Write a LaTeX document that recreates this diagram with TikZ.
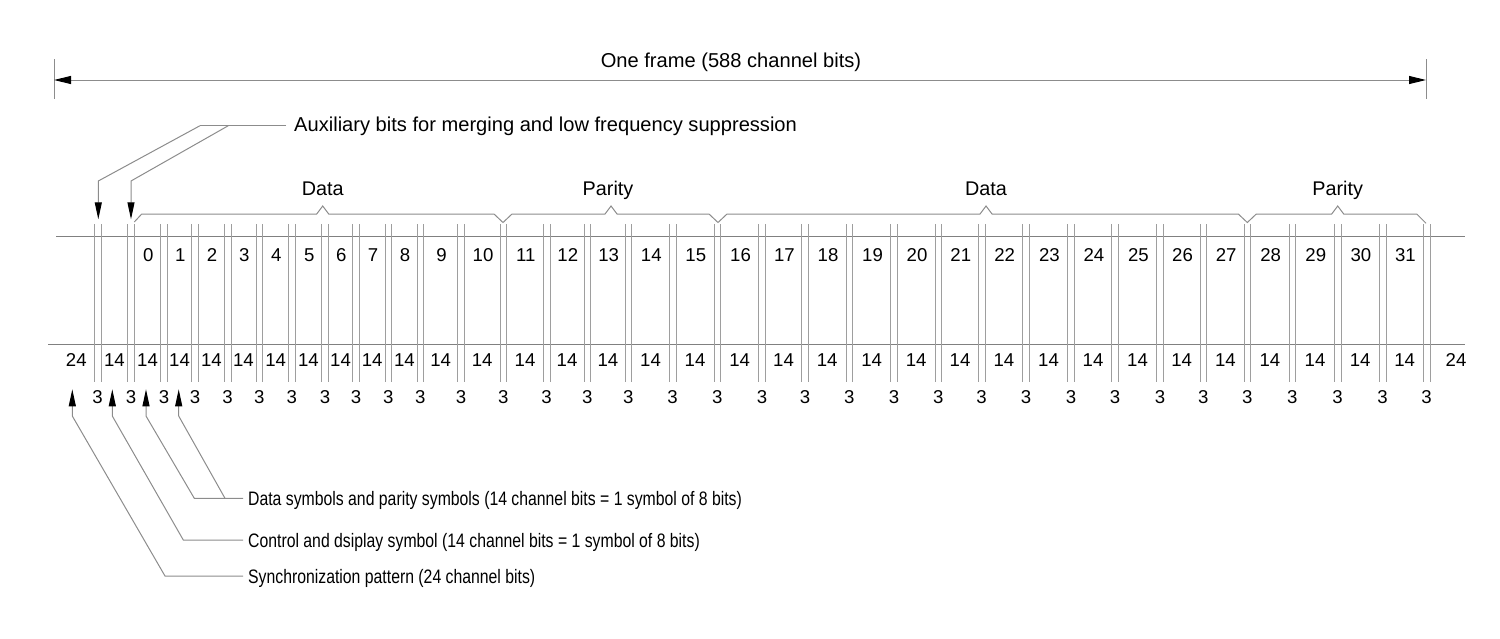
\documentclass[tikz,border=0pt]{standalone}
\usepackage{fontspec}
\setmainfont{Liberation Sans}
\usetikzlibrary{arrows.meta,calc}
\begin{document}
\begin{tikzpicture}[x=1pt,y=-1pt,
  vline/.style={draw=black!38,line width=1pt},
  hline/.style={draw=black!50,line width=1pt},
  lead/.style={draw=black!45,line width=1pt},
  num/.style={inner sep=0pt,anchor=base,font=\fontsize{18.6}{20}\selectfont},
  lbl/.style={inner sep=0pt,anchor=base,font=\fontsize{19.8}{22}\selectfont},
  big/.style={inner sep=0pt,anchor=base,font=\fontsize{20.1}{22}\selectfont},
  note/.style={inner sep=0pt,anchor=base west,font=\fontsize{19.5}{22}\selectfont,xscale=0.81},
  tip/.style={-{Triangle[length=17pt,width=7pt,color=black]}},
  tipf/.style={{Triangle[length=17pt,width=8pt,color=black]}-{Triangle[length=17pt,width=8pt,color=black]}}
]
\useasboundingbox (0,0) rectangle (1500,638);

% frame dimension arrow
\coordinate (fl) at (54,80);
\coordinate (fr) at (1426,80);
\draw[lead] (54,59) -- (54,99);
\draw[lead] (1426,59) -- (1426,99);
\draw[lead,tipf] (fl) -- (fr);
\node[big] (frame) at (731,67) {One frame (588 channel bits)};

% horizontal lines
\draw[hline] (56,236.3) -- (1465,236.3);
\draw[hline] (48,344.3) -- (1465,344.3);

% separator pairs and "3" labels
\foreach \x [count=\i] in {94.3,127.7,160.7,191.7,224.3,256,288.5,321.7,352.7,385,417,457.7,500,543.3,584,625,669.3,714,758.7,801.7,846,890.7,935,978.3,1022.7,1067.7,1111.7,1156.7,1200,1244,1289,1334.3,1379.3,1423.3} {
  \draw[vline] (\x,224) -- (\x,382);
  \draw[vline] (\x+6.7,224) -- (\x+6.7,382);
  \coordinate (p\i) at (\x+3.35,0);
  \node[num] (t\i) at (\x+3.35,403) {3};
}

% "14" labels
\foreach \i [evaluate=\i as \j using int(\i+1)] in {1,...,33} {
  \node[num] (f\i) at ($(p\i)!0.5!(p\j)+(0,366.7)$) {14};
}
% symbol numbers
\foreach \i [evaluate=\i as \j using int(\i+1), evaluate=\i as \k using int(\i-2)] in {2,...,33} {
  \node[num] (s\k) at ($(p\i)!0.5!(p\j)+(0.8,261.7)$) {\k};
}
\node[num] (syncL) at (76.3,366.7) {24};
\node[num] (syncR) at (1456,366.7) {24};

% braces
\draw[lead] (134.3,222) -- (141.7,214) -- (316.7,214) -- (322.7,206) -- (328.7,214)
  -- (494,214) -- (503,222.5) -- (512,214)
  -- (605,214) -- (611,206) -- (617,214)
  -- (709,214) -- (718,222.5) -- (727,214)
  -- (980,214) -- (986,206) -- (992,214)
  -- (1238.3,214) -- (1247.3,222.5) -- (1256.3,214)
  -- (1331.7,214) -- (1337.7,206) -- (1343.7,214)
  -- (1416.7,214) -- (1426,223.3);
\node[lbl] (gd1) at (322.7,195) {Data};
\node[lbl] (gp1) at (608,195) {Parity};
\node[lbl] (gd2) at (986,195) {Data};
\node[lbl] (gp2) at (1337.7,195) {Parity};

% auxiliary bits
\node[big,anchor=base west] (aux) at (294,131) {Auxiliary bits for merging and low frequency suppression};
\coordinate (a1) at (98.3,219.3);
\coordinate (a2) at (131,219.3);
\draw[lead] ([xshift=-8pt]aux.base west) ++(0,-5.3) -- (200,125.7);
\draw[lead,tip] (200,125.7) -- (98.3,181) -- (a1);
\draw[lead,tip] (228.3,125.7) -- (131,181) -- (a2);

% bottom notes
\node[note] (dsym) at (248,505) {Data symbols and parity symbols (14 channel bits = 1 symbol of 8 bits)};
\node[note] (ctrl) at (248,547) {Control and dsiplay symbol (14 channel bits = 1 symbol of 8 bits)};
\node[note] (sync) at (248,583) {Synchronization pattern (24 channel bits)};
\coordinate (b1) at (72.3,389.3);
\coordinate (b2) at (112.3,389.3);
\coordinate (b3) at (146,389.3);
\coordinate (b4) at (178.7,389.3);
\draw[lead,tip] ([xshift=-5pt]dsym.base west) ++(0,-6.7) -- (194.3,498.3) -- (146,416) -- (b3);
\draw[lead,tip] (225,498.3) -- (178.7,416) -- (b4);
\draw[lead,tip] ([xshift=-5pt]ctrl.base west) ++(0,-7) -- (183.3,540) -- (112.3,416) -- (b2);
\draw[lead,tip] ([xshift=-5pt]sync.base west) ++(0,-7) -- (165,576) -- (72.3,416) -- (b1);
\end{tikzpicture}
\end{document}
